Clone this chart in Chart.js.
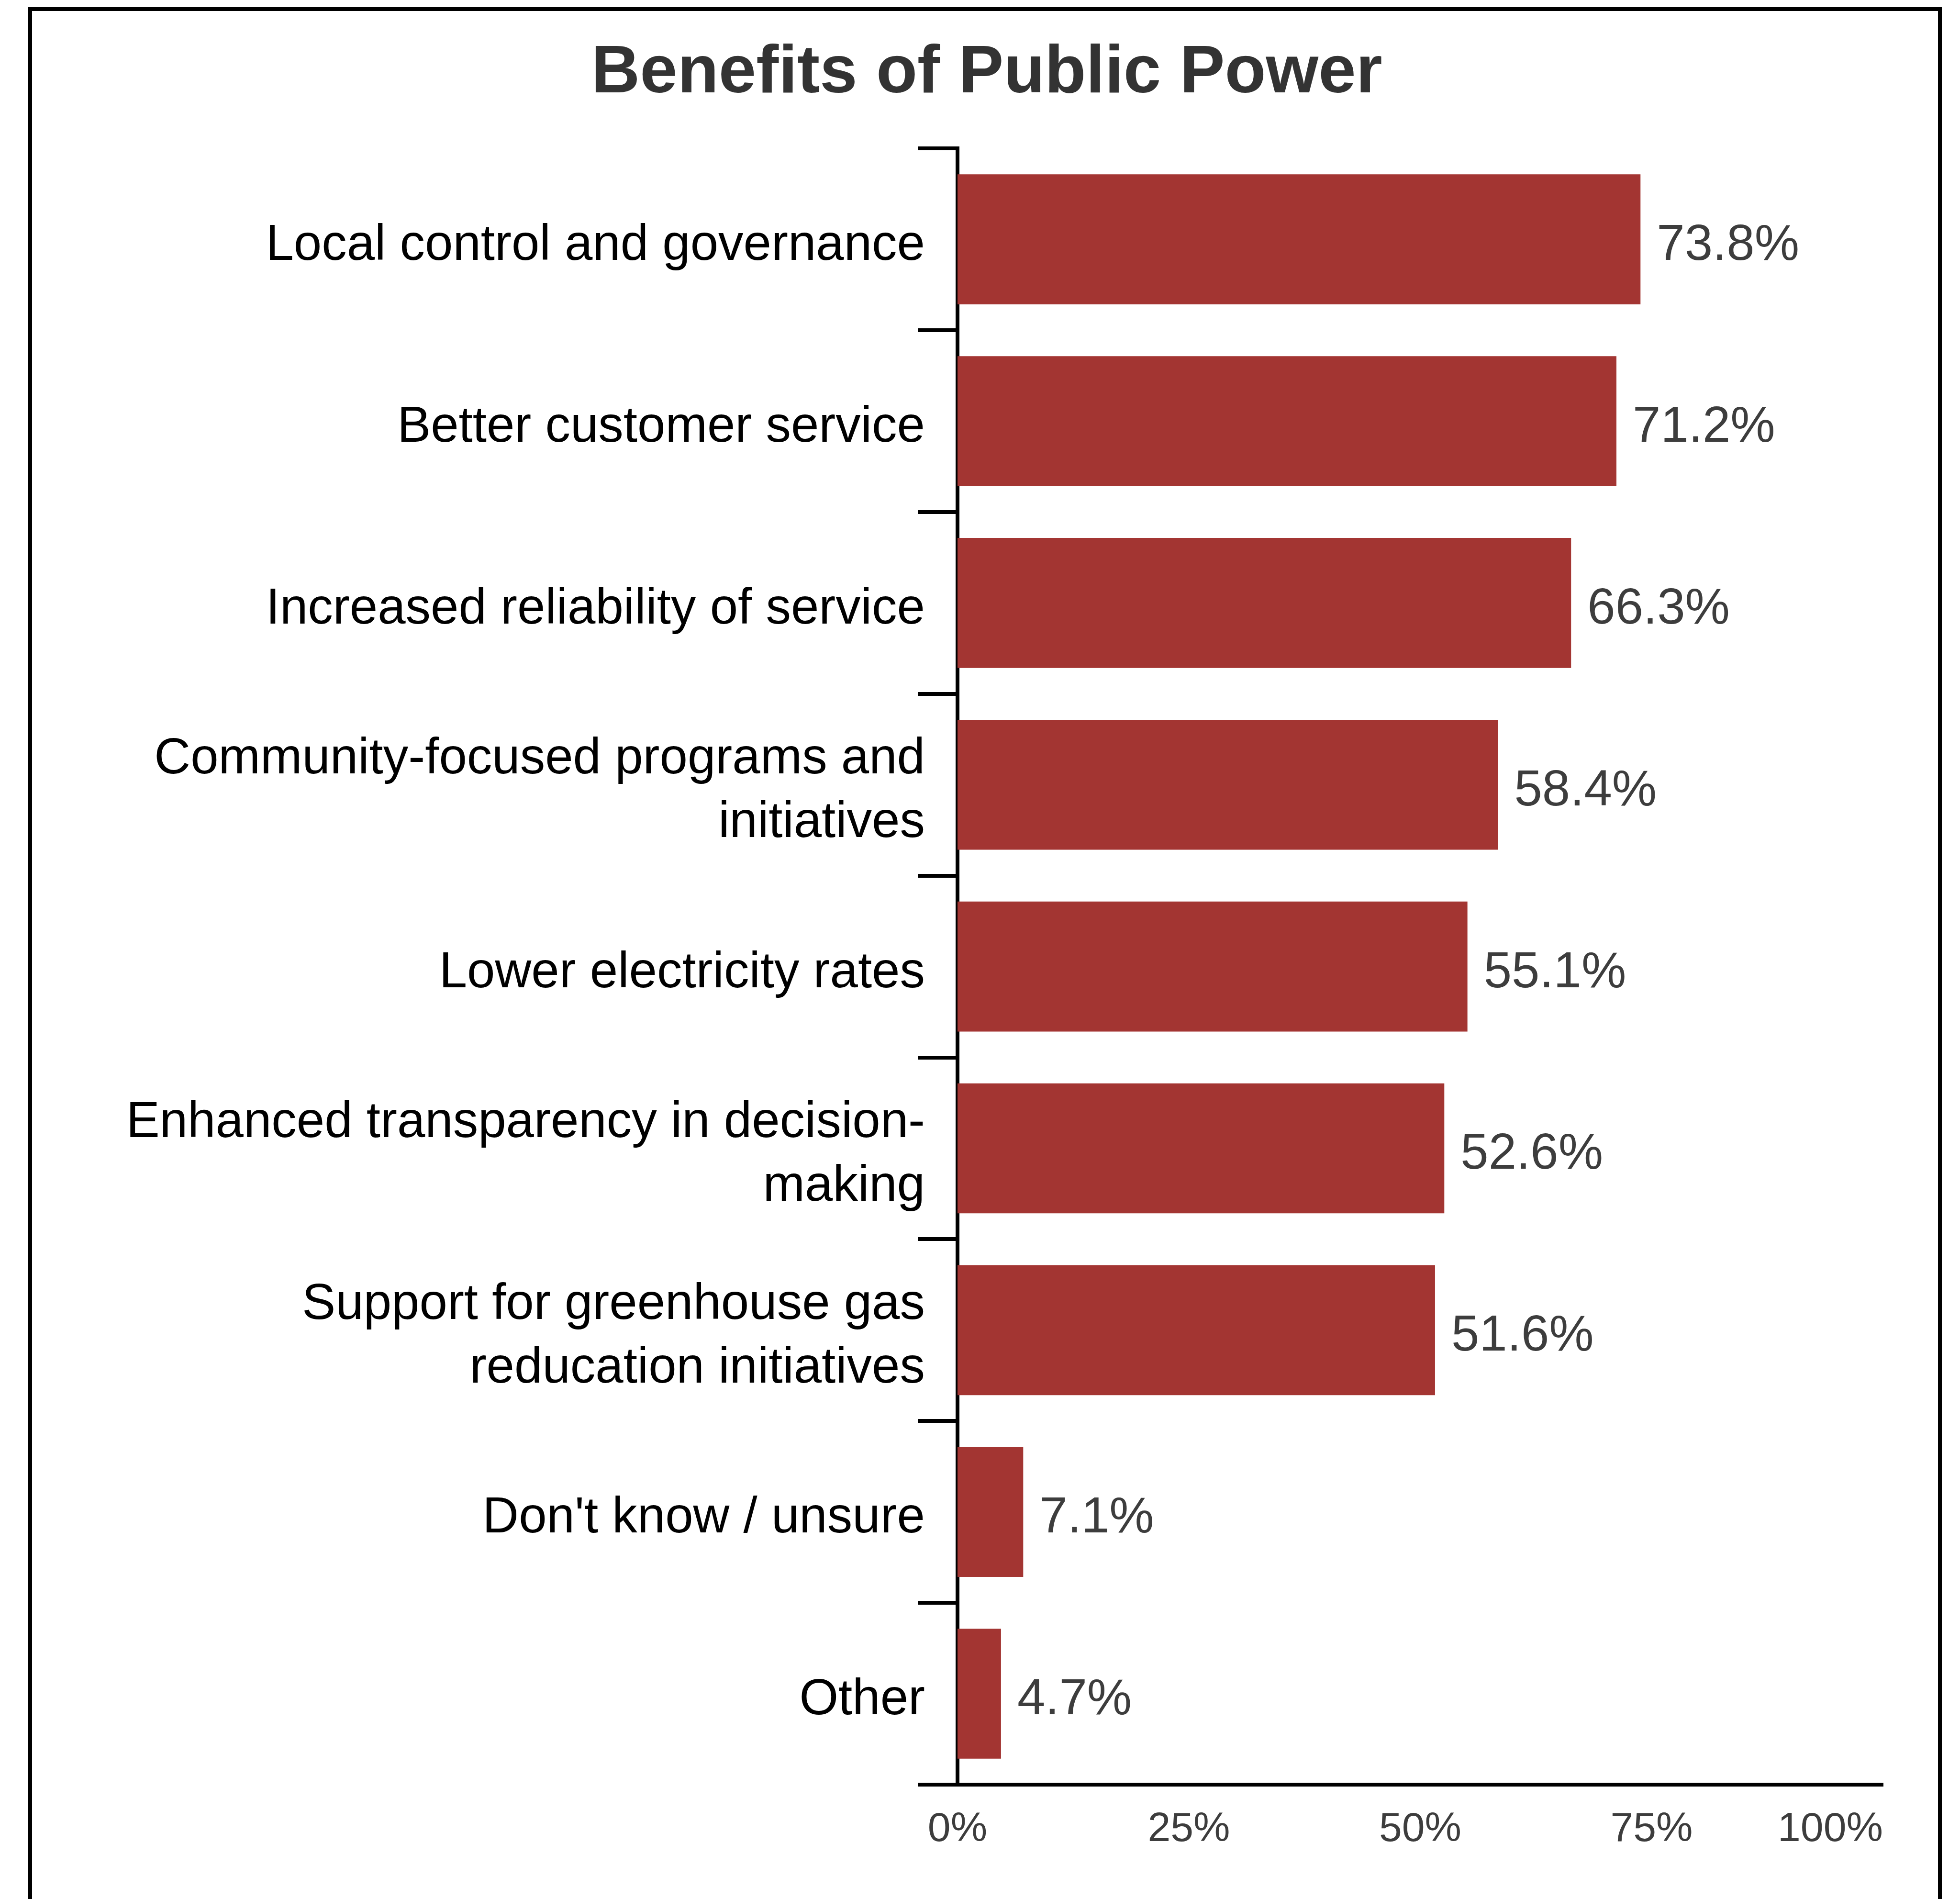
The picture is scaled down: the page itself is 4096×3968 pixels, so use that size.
<!DOCTYPE html>
<html>
<head>
<meta charset="utf-8">
<script src="https://cdn.jsdelivr.net/npm/chart.js@4.4.1/dist/chart.umd.min.js"></script>
<style>
html,body{margin:0;padding:0;background:#fff;overflow:hidden}
canvas{display:block}
</style>
</head>
<body>
<canvas id="c" width="4096" height="3968"></canvas>
<script>
// ---- data ----
const titleText = 'Benefits of Public Power';
const categories = [
  'Local control and governance',
  'Better customer service',
  'Increased reliability of service',
  ['Community-focused programs and', 'initiatives'],
  'Lower electricity rates',
  ['Enhanced transparency in decision-', 'making'],
  ['Support for greenhouse gas', 'reducation initiatives'],
  "Don't know / unsure",
  'Other'
];
const values = [73.8, 71.2, 66.3, 58.4, 55.1, 52.6, 51.6, 7.1, 4.7];
const xTickValues = [0, 25, 50, 75, 100];

// ---- styling ----
const FONT = "'Liberation Sans', Arial, Helvetica, sans-serif";
const BAR_COLOR = '#A33532';
const X_TICK_FONT = 86;
const X_TICK_PAD = 43;
const LABEL_SHIFT = 14;

Chart.defaults.font.family = FONT;

const framePlugin = {
  id: 'frame',
  beforeDraw(chart) {
    const ctx = chart.ctx;
    ctx.save();
    ctx.fillStyle = '#ffffff';
    ctx.fillRect(0, 0, chart.width, chart.height);
    ctx.strokeStyle = '#000000';
    ctx.lineWidth = 8;
    ctx.strokeRect(63, 19, 4054 - 63, 5000);
    ctx.restore();
    // nudge category label baseline slightly downward, as in the original
    const ys = chart.scales.y;
    const items = ys.getLabelItems();
    if (!items._shifted) {
      items.forEach(it => { it.options.translation[1] += LABEL_SHIFT; });
      items._shifted = true;
    }
  }
};

const valueLabelPlugin = {
  id: 'valueLabels',
  afterDatasetsDraw(chart) {
    const ctx = chart.ctx;
    const meta = chart.getDatasetMeta(0);
    ctx.save();
    ctx.font = '105px ' + FONT;
    ctx.fillStyle = '#3d3d3d';
    ctx.textAlign = 'left';
    ctx.textBaseline = 'middle';
    meta.data.forEach((bar, i) => {
      ctx.fillText(values[i].toFixed(1) + '%', bar.x + 34, bar.y + LABEL_SHIFT);
    });
    ctx.restore();
  }
};

const lastTickPlugin = {
  id: 'lastTick',
  afterDraw(chart) {
    const xs = chart.scales.x;
    const ctx = chart.ctx;
    const v = xTickValues[xTickValues.length - 1];
    ctx.save();
    ctx.font = X_TICK_FONT + 'px ' + FONT;
    ctx.fillStyle = '#3d3d3d';
    ctx.textAlign = 'right';
    ctx.textBaseline = 'middle';
    ctx.fillText(v + '%', xs.getPixelForValue(v), xs.top + X_TICK_PAD + X_TICK_FONT * 1.2 / 2);
    ctx.restore();
  }
};

new Chart(document.getElementById('c'), {
  type: 'bar',
  data: {
    labels: categories,
    datasets: [{
      data: values,
      backgroundColor: BAR_COLOR,
      borderWidth: 0,
      categoryPercentage: 1.0,
      barPercentage: 0.715
    }]
  },
  options: {
    indexAxis: 'y',
    responsive: false,
    animation: false,
    devicePixelRatio: 1,
    events: [],
    layout: { padding: { left: 189, right: 161, top: 0, bottom: 0 } },
    plugins: {
      legend: { display: false },
      tooltip: { enabled: false },
      title: {
        display: true,
        text: titleText,
        color: '#333333',
        font: { size: 141, weight: 'bold', family: FONT, lineHeight: 1.2 },
        padding: { top: 70, bottom: 71 }
      }
    },
    scales: {
      x: {
        type: 'linear',
        min: 0,
        max: 100,
        afterBuildTicks(scale) { scale.ticks = xTickValues.map(v => ({ value: v })); },
        afterFit(scale) { scale.height = 239; },
        grid: { display: false, drawTicks: false, drawOnChartArea: false },
        border: { display: true, color: '#000000', width: 8 },
        ticks: {
          font: { size: X_TICK_FONT, family: FONT, lineHeight: 1.2 },
          color: (c) => (c.tick && c.tick.value === xTickValues[xTickValues.length - 1]) ? 'rgba(0,0,0,0)' : '#3d3d3d',
          padding: X_TICK_PAD,
          maxRotation: 0,
          autoSkip: false,
          callback: (v) => v + '%'
        }
      },
      y: {
        z: 1,
        afterFit(scale) { scale.width = 1812; },
        grid: {
          display: true,
          offset: true,
          drawOnChartArea: false,
          drawTicks: true,
          tickLength: 83,
          tickWidth: 8,
          tickColor: '#000000',
          color: '#000000',
          lineWidth: 8
        },
        border: { display: true, color: '#000000', width: 8 },
        ticks: {
          font: { size: 105, family: FONT, lineHeight: 1.27 },
          color: '#000000',
          padding: -15,
          autoSkip: false
        }
      }
    }
  },
  plugins: [framePlugin, valueLabelPlugin, lastTickPlugin]
});
</script>
</body>
</html>
